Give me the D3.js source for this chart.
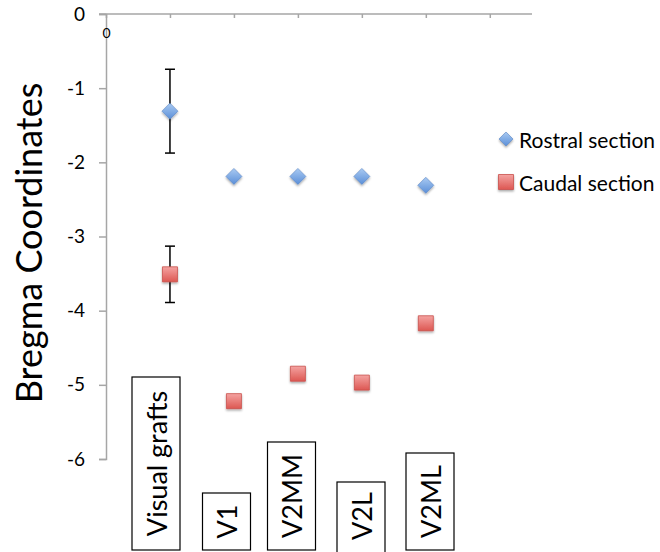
<!DOCTYPE html>
<html>
<head>
<meta charset="utf-8">
<script src="https://cdn.jsdelivr.net/npm/d3@7"></script>
<style>
  body { margin: 0; background: #fff; }
  svg { display: block; font-family: Lato, "Open Sans", sans-serif; }
</style>
</head>
<body>
<svg id="chart" width="660" height="552"></svg>
<script>
var categories = ['Visual grafts', 'V1', 'V2MM', 'V2L', 'V2ML'];
var rostral = [-1.31, -2.19, -2.19, -2.19, -2.31];
var caudal = [-3.51, -5.22, -4.85, -4.97, -4.17];
var rostralErr = [0.565, null, null, null, null];
var caudalErr = [0.38, null, null, null, null];
var yTicks = [0, -1, -2, -3, -4, -5, -6];
var xTicks = [0, 1, 2, 3, 4, 5, 6];
var seriesNames = ['Rostral section', 'Caudal section'];

var chart = function() {
    'use strict';

    var svg = d3.select('#chart');
    var axisColor = '#a6a6a6';

    var x = d3.scaleLinear().domain([0, 6.66]).range([106, 532]);
    var y = d3.scaleLinear().domain([0, -6]).range([14, 459]);

    // gradients + shadow
    var defs = svg.append('defs');
    var blue = defs.append('linearGradient').attr('id', 'blueGrad')
        .attr('x1', 0).attr('y1', 0).attr('x2', 0).attr('y2', 1);
    blue.append('stop').attr('offset', '0%').attr('stop-color', '#a9caf2');
    blue.append('stop').attr('offset', '100%').attr('stop-color', '#5b8fd8');
    var red = defs.append('linearGradient').attr('id', 'redGrad')
        .attr('x1', 0).attr('y1', 0).attr('x2', 0).attr('y2', 1);
    red.append('stop').attr('offset', '0%').attr('stop-color', '#f4a3a1');
    red.append('stop').attr('offset', '100%').attr('stop-color', '#dd5752');
    var shadow = defs.append('filter').attr('id', 'shadow')
        .attr('x', '-50%').attr('y', '-50%').attr('width', '200%').attr('height', '200%');
    shadow.append('feDropShadow').attr('dx', 0).attr('dy', 1.5)
        .attr('stdDeviation', 1.2).attr('flood-color', '#000').attr('flood-opacity', 0.35);

    // y axis
    var yAxis = svg.append('g')
        .attr('transform', 'translate(' + x(0) + ',0)')
        .call(d3.axisLeft(y).tickValues(yTicks).tickSize(7).tickPadding(14)
            .tickFormat(function(d) { return d === 0 ? '0' : '-' + Math.abs(d); }));
    yAxis.select('.domain').attr('stroke', axisColor).attr('stroke-width', 1.5);
    yAxis.selectAll('.tick line').attr('stroke', axisColor).attr('stroke-width', 1.5);
    yAxis.selectAll('.tick text').attr('fill', '#000').style('font-size', '19px')
        .style('font-family', 'Lato, "Open Sans", sans-serif');

    // x axis along y = 0
    var xAxis = svg.append('g')
        .attr('transform', 'translate(0,' + y(0) + ')')
        .call(d3.axisBottom(x).tickValues(xTicks).tickSize(4).tickSizeOuter(0)
            .tickFormat(function(d) { return d === 0 ? '0' : ''; }).tickPadding(10));
    xAxis.select('.domain').attr('stroke', axisColor).attr('stroke-width', 1.5)
        .attr('d', 'M' + (x(0) - 7) + ',0H' + x(6.66));
    xAxis.selectAll('.tick line').attr('stroke', axisColor).attr('stroke-width', 1.5);
    xAxis.selectAll('.tick text').attr('fill', '#000').style('font-size', '14px')
        .style('font-family', 'Lato, "Open Sans", sans-serif');

    var idx = categories.map(function(d, i) { return i + 1; });

    // error bars
    function errorBars(values, errs) {
        var pts = idx.map(function(p, i) { return { x: p, v: values[i], e: errs[i] }; })
            .filter(function(d) { return d.e != null; });
        var g = svg.append('g').attr('stroke', '#000').attr('stroke-width', 1.5);
        pts.forEach(function(d) {
            var cx = x(d.x);
            g.append('line').attr('x1', cx).attr('x2', cx)
                .attr('y1', y(d.v + d.e)).attr('y2', y(d.v - d.e));
            g.append('line').attr('x1', cx - 5).attr('x2', cx + 5)
                .attr('y1', y(d.v + d.e)).attr('y2', y(d.v + d.e));
            g.append('line').attr('x1', cx - 5).attr('x2', cx + 5)
                .attr('y1', y(d.v - d.e)).attr('y2', y(d.v - d.e));
        });
    }
    errorBars(rostral, rostralErr);
    errorBars(caudal, caudalErr);

    function diamond(sel) {
        sel.attr('d', 'M0,-8L8,0L0,8L-8,0Z')
            .attr('fill', 'url(#blueGrad)').attr('stroke', '#5a87c6').attr('stroke-width', 0.6)
            .attr('filter', 'url(#shadow)');
    }
    function square(sel) {
        sel.attr('d', 'M-7.5,-7.5H7.5V7.5H-7.5Z')
            .attr('fill', 'url(#redGrad)').attr('stroke', '#c9504c').attr('stroke-width', 0.8)
            .attr('filter', 'url(#shadow)');
    }

    svg.append('g').selectAll('path').data(rostral).enter().append('path')
        .attr('transform', function(d, i) { return 'translate(' + x(idx[i]) + ',' + y(d) + ')'; })
        .call(diamond);
    svg.append('g').selectAll('path').data(caudal).enter().append('path')
        .attr('transform', function(d, i) { return 'translate(' + x(idx[i]) + ',' + y(d) + ')'; })
        .call(square);

    // category label boxes, placed by hand under the points like in the original slide
    var boxCenters = [156, 226.5, 291.5, 361, 430];
    var boxTops = [377, 493, 442, 482, 453];
    var boxBottom = 550;
    var boxW = 48;
    var boxes = svg.append('g').selectAll('g').data(categories).enter().append('g');
    boxes.append('rect')
        .attr('x', function(d, i) { return boxCenters[i] - boxW / 2; })
        .attr('y', function(d, i) { return boxTops[i]; })
        .attr('width', boxW)
        .attr('height', function(d, i) { return boxBottom - boxTops[i] + (i === 3 ? 4 : 0); })
        .attr('fill', '#fff').attr('stroke', '#000').attr('stroke-width', 1.2);
    boxes.append('text')
        .attr('transform', function(d, i) {
            var cy = (boxTops[i] + boxBottom) / 2;
            return 'translate(' + boxCenters[i] + ',' + cy + ') rotate(-90)';
        })
        .attr('text-anchor', 'middle').attr('dominant-baseline', 'central')
        .style('font-size', '27px')
        .text(function(d) { return d; });

    // y axis title
    svg.append('text')
        .attr('transform', 'translate(28,243) rotate(-90)')
        .attr('text-anchor', 'middle').attr('dominant-baseline', 'central')
        .style('font-size', '36px')
        .text('Bregma Coordinates');

    // legend
    var legend = svg.append('g');
    var leg = legend.selectAll('g').data(seriesNames).enter().append('g')
        .attr('transform', function(d, i) { return 'translate(506,' + (139 + i * 43) + ')'; });
    leg.append('path').each(function(d, i) {
        var p = d3.select(this);
        if (i === 0) {
            p.call(diamond).attr('d', 'M0,-7L7,0L0,7L-7,0Z');
        } else {
            p.call(square).attr('d', 'M-7.5,-7.5H7.5V7.5H-7.5Z');
        }
    });
    leg.append('text').attr('x', 13).attr('dominant-baseline', 'central')
        .style('font-size', '21px')
        .text(function(d) { return d; });
};

chart();
</script>
</body>
</html>
